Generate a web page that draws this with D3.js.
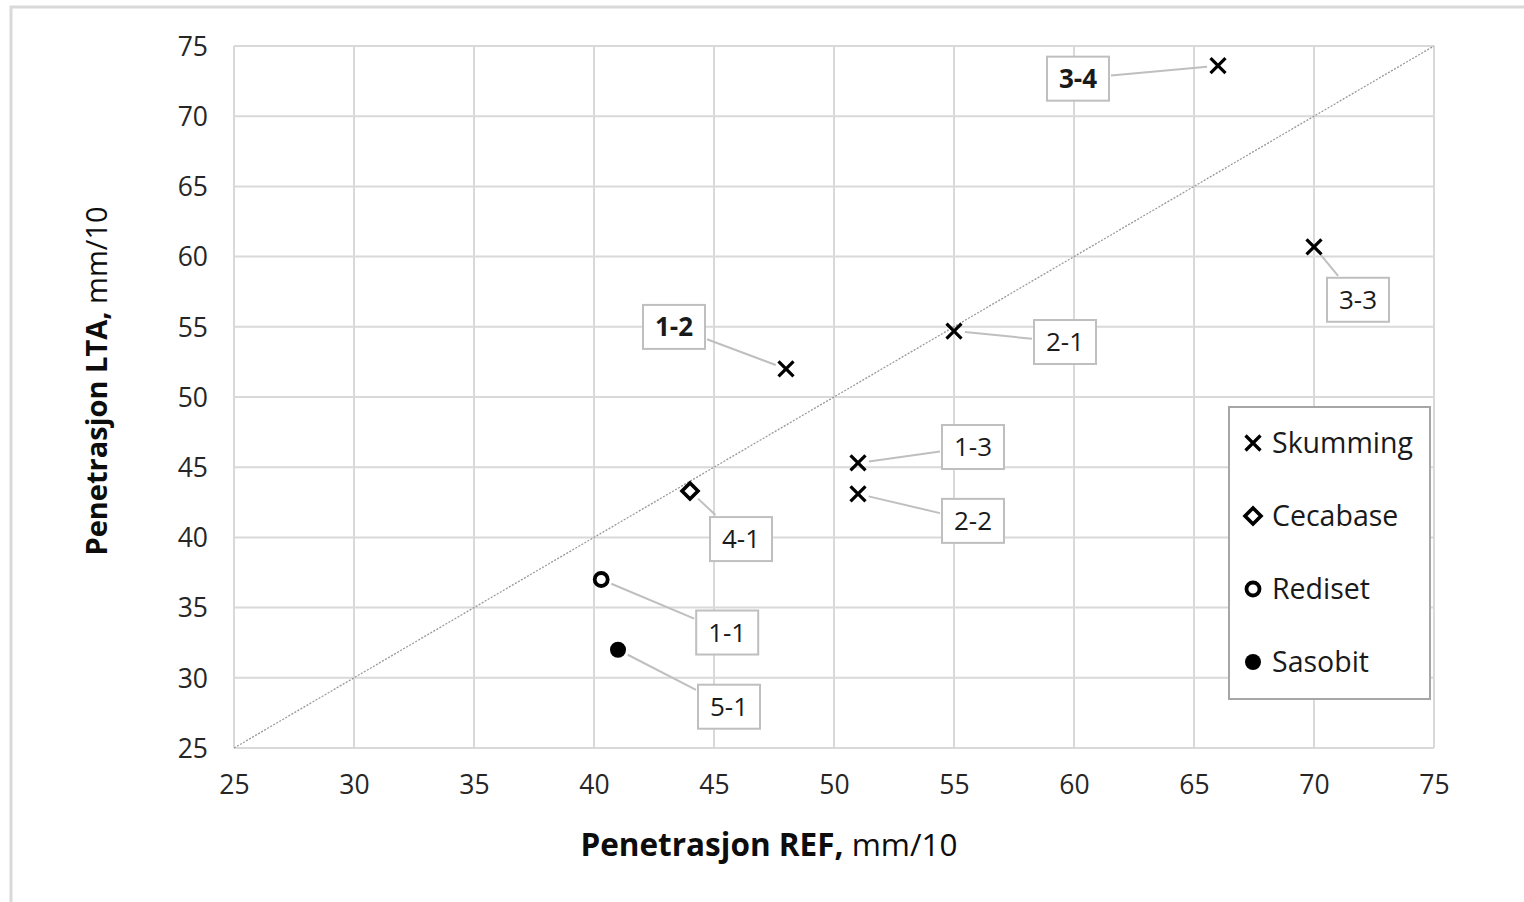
<!DOCTYPE html>
<html>
<head>
<meta charset="utf-8">
<script src="https://cdn.jsdelivr.net/npm/d3@7"></script>
<style>
  body { margin: 0; background: #fff; }
  svg { display: block; font-family: "Open Sans", sans-serif; }
</style>
</head>
<body>
<svg id="chart" width="1524" height="902"></svg>
<script>
// data
var ids    = ["3-4", "3-3", "2-1", "1-2", "1-3", "2-2", "4-1", "1-1", "5-1"];
var refPen = [66, 70, 55, 48, 51, 51, 44, 40.3, 41];
var ltaPen = [73.6, 60.7, 54.7, 52, 45.3, 43.1, 43.3, 37, 32];
var group  = ["Skumming", "Skumming", "Skumming", "Skumming", "Skumming", "Skumming", "Cecabase", "Rediset", "Sasobit"];
var boldLabel = ["3-4", "1-2"];

var legendNames = ["Skumming", "Cecabase", "Rediset", "Sasobit"];
var ticks = [25, 30, 35, 40, 45, 50, 55, 60, 65, 70, 75];

// where each data label box sits, relative to its point (px)
var labelOffset = {
  "3-4": [-140, 13], "3-3": [44, 53], "2-1": [111, 11], "1-2": [-112, -42],
  "1-3": [115, -16], "2-2": [115, 27], "4-1": [51, 48], "1-1": [126, 53], "5-1": [111, 57]
};

var svg = d3.select("#chart");

// chart area border (runs off right/bottom like the crop)
svg.append("rect")
  .attr("x", 11).attr("y", 7).attr("width", 1600).attr("height", 1000)
  .attr("fill", "none").attr("stroke", "#d9d9d9").attr("stroke-width", 3);

var x = d3.scaleLinear().domain([25, 75]).range([234, 1434]);
var y = d3.scaleLinear().domain([25, 75]).range([748, 46]);

var grid = svg.append("g");
grid.selectAll("line.v").data(ticks).enter().append("line")
  .attr("x1", function(d) { return x(d); }).attr("x2", function(d) { return x(d); })
  .attr("y1", y(25)).attr("y2", y(75))
  .attr("stroke", "#d9d9d9").attr("stroke-width", 2);
grid.selectAll("line.h").data(ticks).enter().append("line")
  .attr("y1", function(d) { return y(d); }).attr("y2", function(d) { return y(d); })
  .attr("x1", x(25)).attr("x2", x(75))
  .attr("stroke", "#d9d9d9").attr("stroke-width", 2);

// axes (labels only, Excel style)
var xAxis = svg.append("g")
  .attr("transform", "translate(0," + y(25) + ")")
  .call(d3.axisBottom(x).tickValues(ticks).tickSize(0).tickPadding(37));
var yAxis = svg.append("g")
  .attr("transform", "translate(" + x(25) + ",0)")
  .call(d3.axisLeft(y).tickValues(ticks).tickSize(0).tickPadding(26));
[xAxis, yAxis].forEach(function(a) {
  a.select(".domain").remove();
  a.selectAll("text")
    .style("font-family", "'Open Sans', sans-serif")
    .style("font-size", "26.5px")
    .attr("fill", "#262626");
});
yAxis.selectAll("text").attr("dy", "0.35em");
xAxis.selectAll("text").attr("dy", "0.35em");

// 1:1 reference line
svg.append("line")
  .attr("x1", x(25)).attr("y1", y(25)).attr("x2", x(75)).attr("y2", y(75))
  .attr("stroke", "#999").attr("stroke-width", 1.3).attr("stroke-dasharray", "2,1.5");

// axis titles
var xt = svg.append("text").attr("x", 769).attr("y", 856)
  .attr("text-anchor", "middle").style("font-size", "31.5px").attr("fill", "#0d0d0d");
xt.append("tspan").style("font-weight", "bold").text("Penetrasjon REF,");
xt.append("tspan").text(" mm/10");

var yt = svg.append("text")
  .attr("transform", "translate(107,381) rotate(-90)")
  .attr("text-anchor", "middle").style("font-size", "29px").attr("fill", "#0d0d0d");
yt.append("tspan").style("font-weight", "bold").text("Penetrasjon LTA,");
yt.append("tspan").text(" mm/10");

// marker drawing
function drawMarker(g, kind) {
  if (kind === "Skumming") {
    g.append("path").attr("d", "M-7.5,-7.5L7.5,7.5M-7.5,7.5L7.5,-7.5")
      .attr("stroke", "#000").attr("stroke-width", 3.2).attr("fill", "none");
  } else if (kind === "Cecabase") {
    g.append("path").attr("d", "M0,-8L8,0L0,8L-8,0Z")
      .attr("stroke", "#000").attr("stroke-width", 3.6).attr("fill", "#fff");
  } else if (kind === "Rediset") {
    g.append("circle").attr("r", 6.5)
      .attr("stroke", "#000").attr("stroke-width", 3.8).attr("fill", "#fff");
  } else {
    g.append("circle").attr("r", 8).attr("fill", "#000");
  }
}

var pts = ids.map(function(id, i) {
  return { id: id, x: refPen[i], y: ltaPen[i], g: group[i] };
});

// labels with leader lines
var boxW = 62, boxH = 44;
var labels = svg.append("g");
pts.forEach(function(d) {
  var px = x(d.x), py = y(d.y);
  var off = labelOffset[d.id];
  var cx = px + off[0], cy = py + off[1];
  // clip the line to the box edge
  var dx = px - cx, dy = py - cy;
  var t = Math.min((boxW / 2 + 2) / Math.abs(dx || 1e-6), (boxH / 2 + 2) / Math.abs(dy || 1e-6));
  var ex = cx + dx * t, ey = cy + dy * t;
  var len = Math.sqrt(dx * dx + dy * dy);
  var sx = px - dx / len * 11, sy = py - dy / len * 11;
  labels.append("line")
    .attr("x1", sx).attr("y1", sy).attr("x2", ex).attr("y2", ey)
    .attr("stroke", "#bfbfbf").attr("stroke-width", 2);
  labels.append("rect")
    .attr("x", cx - boxW / 2).attr("y", cy - boxH / 2)
    .attr("width", boxW).attr("height", boxH)
    .attr("fill", "#fff").attr("stroke", "#bfbfbf").attr("stroke-width", 2);
  labels.append("text")
    .attr("x", cx).attr("y", cy).attr("dy", "0.36em")
    .attr("text-anchor", "middle")
    .style("font-size", "26px")
    .style("font-weight", boldLabel.indexOf(d.id) >= 0 ? "bold" : "normal")
    .attr("fill", "#1a1a1a")
    .text(d.id);
});

svg.append("g").selectAll("g").data(pts).enter().append("g")
  .attr("transform", function(d) { return "translate(" + x(d.x) + "," + y(d.y) + ")"; })
  .each(function(d) { drawMarker(d3.select(this), d.g); });

// legend
var leg = svg.append("g");
leg.append("rect").attr("x", 1229).attr("y", 407).attr("width", 201).attr("height", 292)
  .attr("fill", "#fff").attr("stroke", "#a6a6a6").attr("stroke-width", 2);
var ly = d3.scalePoint().domain(legendNames).range([443, 662]);
legendNames.forEach(function(n) {
  var g = leg.append("g").attr("transform", "translate(1253," + ly(n) + ")");
  drawMarker(g, n);
  g.append("text").attr("x", 19).attr("dy", "0.36em")
    .style("font-size", "28.5px").attr("fill", "#1a1a1a").text(n);
});
</script>
</body>
</html>
